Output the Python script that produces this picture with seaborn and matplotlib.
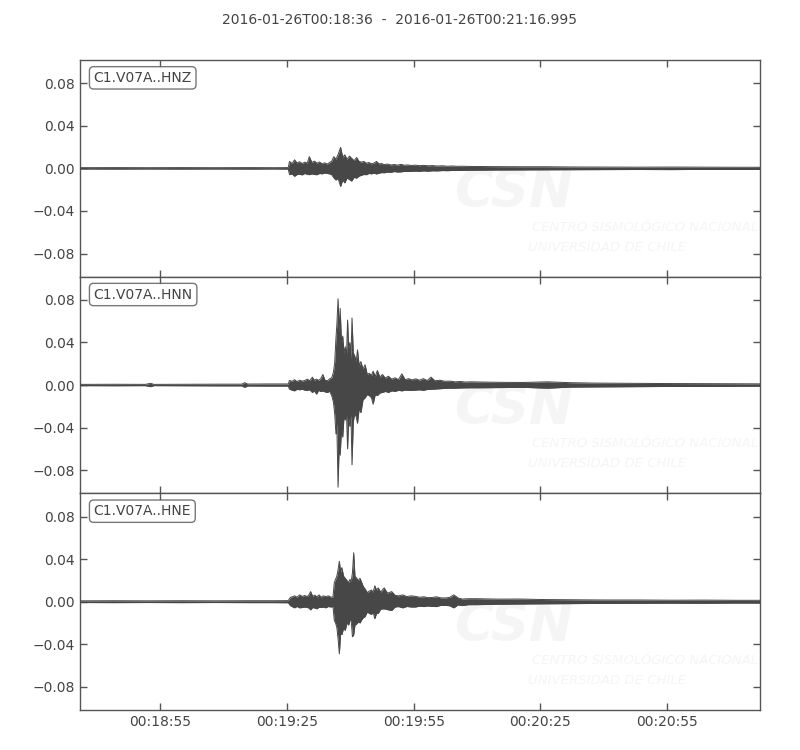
import numpy as np
import pandas as pd
import matplotlib
matplotlib.use('Agg')
import matplotlib.pyplot as plt
import matplotlib.dates as mdates
from matplotlib.ticker import MultipleLocator, FuncFormatter
import seaborn as sns

# record window
start = pd.Timestamp('2016-01-26T00:18:36')
end = pd.Timestamp('2016-01-26T00:21:16.995')
labels = ['C1.V07A..HNZ', 'C1.V07A..HNN', 'C1.V07A..HNE']

# min/max envelope (seconds after start, amplitude)
hnz_t = [0, 8, 16, 24, 32, 40, 46,
         49.3, 49.6, 50.2, 50.8, 51.4, 52.0, 52.6, 53.2, 53.8, 54.3,
         54.9, 55.5, 56.1, 56.7, 57.3, 57.9, 58.5, 59.1, 59.6, 60.1,
         60.6, 61.1, 61.7, 62.2, 62.7, 63.2, 63.8, 64.3, 64.9, 65.5,
         66.0, 66.6, 67.2, 67.8, 68.4, 69.0, 69.6, 70.2, 70.8, 71.4,
         72.0, 72.8, 73.6, 74.4, 75.2, 76.0, 76.8, 77.6, 78.4, 79.4,
         80.4, 81.4, 82.4, 83.4, 84.6, 85.8, 87.0, 88.2, 89.4, 90.6, 92,
         98, 104, 110, 116, 124, 132, 140, 148, 155, 161]
hnz_up = [0.0006, 0.0007, 0.0006, 0.0007, 0.0006, 0.0007, 0.0006,
          0.0007, 0.0065, 0.0045, 0.008, 0.005, 0.0062, 0.0045, 0.0058, 0.005, 0.011,
          0.0055, 0.0068, 0.0048, 0.006, 0.0042, 0.0052, 0.004, 0.0055, 0.0068, 0.011,
          0.0085, 0.013, 0.0197, 0.0105, 0.0127, 0.0085, 0.0115, 0.0095, 0.0072, 0.0102,
          0.0068, 0.0058, 0.0065, 0.0048, 0.0055, 0.0042, 0.005, 0.0065, 0.0042, 0.0045,
          0.0035, 0.004, 0.0032, 0.0036, 0.003, 0.0038, 0.0029, 0.0032, 0.0027, 0.003,
          0.0025, 0.0028, 0.0024, 0.0026, 0.0022, 0.0024, 0.002, 0.0022, 0.0019, 0.002, 0.0018,
          0.0016, 0.0015, 0.0015, 0.0013, 0.0012, 0.0011, 0.0012, 0.0011, 0.001, 0.001]
hnz_lo = [-0.0006, -0.0007, -0.0006, -0.0007, -0.0006, -0.0007, -0.0006,
          -0.0007, -0.006, -0.0052, -0.0075, -0.0058, -0.0055, -0.0062, -0.0048, -0.0056, -0.006,
          -0.0052, -0.0058, -0.006, -0.0048, -0.0052, -0.0044, -0.0048, -0.0052, -0.006, -0.009,
          -0.011, -0.0095, -0.017, -0.011, -0.0137, -0.0092, -0.0105, -0.012, -0.0085, -0.0092,
          -0.0075, -0.0065, -0.0058, -0.006, -0.0048, -0.0052, -0.0045, -0.0053, -0.0046, -0.004,
          -0.0042, -0.0035, -0.0038, -0.003, -0.0035, -0.0033, -0.0029, -0.003, -0.0028, -0.0026,
          -0.0028, -0.0024, -0.0027, -0.0023, -0.0024, -0.0021, -0.0022, -0.002, -0.002, -0.0019,
          -0.0018,
          -0.0016, -0.0015, -0.0014, -0.0013, -0.0012, -0.0011, -0.0012, -0.001, -0.001, -0.001]

hnn_t = [0, 8, 15.5, 16.7, 17.5, 25, 33, 38.3, 39, 39.7, 44,
         49.3, 49.6, 50.2, 50.8, 51.4, 52.0, 52.6, 53.2, 53.8, 54.4,
         55.0, 55.5, 56.0, 56.5, 57.0, 57.5, 58.0, 58.6, 59.1, 59.6,
         60.0, 60.3, 60.6, 60.8, 61.1, 61.35, 61.6, 61.9, 62.2, 62.5,
         62.8, 63.1, 63.35, 63.6, 63.9, 64.15, 64.4, 64.7, 65.0, 65.4,
         65.7, 66.1, 66.5, 67.0, 67.5, 68.0, 68.5, 69.0, 69.4, 69.9,
         70.4, 71.0, 71.6, 72.3, 73.0, 73.8, 74.6, 75.4, 76.2, 77.0,
         77.8, 78.6, 79.5, 80.4, 81.3, 82.2, 83.1, 84.0, 85.2, 86.4,
         87.6, 88.8, 90.0, 91.2, 92.5,
         95, 100, 105, 110.7, 116, 122, 130, 138, 146, 154, 161]
hnn_up = [0.0006, 0.0007, 0.0006, 0.0016, 0.0006, 0.0007, 0.0008, 0.0008, 0.0022, 0.0009, 0.001,
          0.001, 0.0043, 0.0035, 0.005, 0.0032, 0.0045, 0.0037, 0.0042, 0.0055, 0.004,
          0.0074, 0.0045, 0.0055, 0.0043, 0.006, 0.0099, 0.0045, 0.004, 0.0058, 0.0068,
          0.012, 0.021, 0.044, 0.056, 0.081, 0.05, 0.072, 0.04, 0.046, 0.03,
          0.036, 0.028, 0.061, 0.035, 0.04, 0.025, 0.063, 0.03, 0.028, 0.022,
          0.033, 0.018, 0.022, 0.015, 0.019, 0.01, 0.011, 0.009, 0.013, 0.008,
          0.0136, 0.0075, 0.0099, 0.0065, 0.0083, 0.0055, 0.0068, 0.005, 0.0105, 0.005,
          0.006, 0.0048, 0.0058, 0.0045, 0.006, 0.0042, 0.0074, 0.004, 0.0045, 0.0035,
          0.0037, 0.003, 0.0033, 0.0028, 0.003,
          0.0028, 0.0025, 0.0024, 0.003, 0.0022, 0.0018, 0.0016, 0.0014, 0.0013, 0.0012, 0.0011]
hnn_lo = [-0.0006, -0.0007, -0.0006, -0.0016, -0.0006, -0.0007, -0.0008, -0.0008, -0.0022,
          -0.0009, -0.001,
          -0.001, -0.004, -0.0048, -0.0055, -0.004, -0.0045, -0.004, -0.0048, -0.005, -0.0045,
          -0.007, -0.0055, -0.0086, -0.005, -0.0062, -0.0055, -0.0065, -0.007, -0.0058, -0.010,
          -0.016, -0.027, -0.046, -0.036, -0.096, -0.058, -0.066, -0.042, -0.049, -0.03,
          -0.033, -0.027, -0.060, -0.032, -0.039, -0.028, -0.075, -0.035, -0.027, -0.03,
          -0.036, -0.022, -0.026, -0.014, -0.012, -0.009, -0.010, -0.012, -0.018, -0.009,
          -0.010, -0.0075, -0.007, -0.006, -0.007, -0.0055, -0.006, -0.005, -0.0055, -0.0048,
          -0.005, -0.005, -0.0048, -0.0045, -0.005, -0.0042, -0.004, -0.0038, -0.0035, -0.0032,
          -0.003, -0.003, -0.0028, -0.0027, -0.0026,
          -0.0026, -0.0024, -0.0022, -0.003, -0.002, -0.0018, -0.0016, -0.0014, -0.0013,
          -0.0012, -0.0011]

hne_t = [0, 8, 16, 24, 32, 40, 46,
         49.3, 49.8, 50.4, 50.8, 51.4, 52.0, 52.6, 53.2, 53.8, 54.2,
         54.6, 55.1, 55.6, 56.1, 56.6, 57.1, 57.6, 58.2, 58.8, 59.4,
         59.9, 60.2, 60.5, 60.8, 61.1, 61.4, 61.7, 62.0, 62.4, 62.8,
         63.2, 63.6, 63.9, 64.2, 64.5, 64.8, 65.1, 65.5, 65.9, 66.3,
         66.7, 67.1, 67.5, 68.0, 68.5, 69.0, 69.4, 69.8, 70.2, 70.6,
         71.2, 72.0, 72.8, 73.8, 74.6, 75.4, 76.4, 77.4, 78.4, 79.4,
         80.4, 81.4, 82.4, 83.4, 84.4, 85.4, 86.5, 87.5, 88.5, 89.5, 90.5, 92,
         94, 99, 104, 110, 117, 124, 132, 140, 148, 155, 161]
hne_up = [0.0008, 0.0009, 0.0008, 0.0009, 0.0008, 0.0009, 0.0009,
          0.001, 0.004, 0.0048, 0.0055, 0.0042, 0.0064, 0.005, 0.0058, 0.0048, 0.0065,
          0.0095, 0.005, 0.0062, 0.0045, 0.0064, 0.0042, 0.0055, 0.0048, 0.0055, 0.0042,
          0.0046, 0.0178, 0.021, 0.024, 0.03, 0.038, 0.028, 0.032, 0.024, 0.022,
          0.02, 0.018, 0.021, 0.019, 0.027, 0.046, 0.024, 0.022, 0.02, 0.022,
          0.018, 0.014, 0.012, 0.0086, 0.01, 0.011, 0.009, 0.015, 0.011, 0.013,
          0.009, 0.013, 0.008, 0.0095, 0.006, 0.0055, 0.0064, 0.0048, 0.0055, 0.005,
          0.0042, 0.0046, 0.0038, 0.004, 0.0046, 0.0036, 0.0035, 0.004, 0.0064, 0.0035, 0.0025,
          0.0028,
          0.0028, 0.0024, 0.0025, 0.002, 0.0018, 0.0016, 0.0016, 0.0014, 0.0015, 0.0013, 0.0013]
hne_lo = [-0.0008, -0.0009, -0.0008, -0.0009, -0.0008, -0.0009, -0.0009,
          -0.001, -0.0037, -0.005, -0.0058, -0.0045, -0.0058, -0.0055, -0.005, -0.0055, -0.006,
          -0.0077, -0.0055, -0.006, -0.0067, -0.0052, -0.0055, -0.005, -0.0058, -0.0045, -0.005,
          -0.0046, -0.0175, -0.02, -0.024, -0.035, -0.049, -0.03, -0.031, -0.025, -0.027,
          -0.02, -0.022, -0.018, -0.017, -0.033, -0.031, -0.022, -0.021, -0.019, -0.02,
          -0.017, -0.015, -0.014, -0.0098, -0.011, -0.012, -0.01, -0.016, -0.011, -0.011,
          -0.007, -0.0067, -0.0075, -0.0083, -0.005, -0.0046, -0.0058, -0.0045, -0.005, -0.005,
          -0.0042, -0.0046, -0.004, -0.0045, -0.0046, -0.0035, -0.0035, -0.0038, -0.0058, -0.003,
          -0.0037, -0.0028,
          -0.0028, -0.0024, -0.0022, -0.002, -0.0018, -0.0016, -0.0015, -0.0014, -0.0015,
          -0.0013, -0.0013]

traces = [(hnz_t, hnz_up, hnz_lo), (hnn_t, hnn_up, hnn_lo), (hne_t, hne_up, hne_lo)]
for t, up, lo in traces:
    assert len(t) == len(up) == len(lo), (len(t), len(up), len(lo))

sns.set_style('ticks')
plt.rcParams['font.family'] = ['DejaVu Sans']

trace_c = '#474747'
text_c = '#444444'
frame_c = '#555555'
mark_c = '#f5f5f5'

fig, axes = plt.subplots(3, 1, sharex=True, figsize=(8, 7.5), dpi=100)
fig.subplots_adjust(left=0.1, right=0.95, top=0.92, bottom=0.0533, hspace=0)

# same amplitude scale on all panels
ymax = 1.06 * max(max(abs(v) for v in up + lo) for _, up, lo in traces)


def fmt_amp(v, pos):
    if abs(v) < 1e-9:
        v = 0.0
    return f'{v:.2f}'.replace('-', '\u2212')


for ax, lab, (t, up, lo) in zip(axes, labels, traces):
    df = pd.DataFrame({'time': start + pd.to_timedelta(t, unit='s'), 'up': up, 'lo': lo})

    # faint CSN watermark
    ax.text(0.55, 0.32, 'CSN', transform=ax.transAxes, fontsize=38, fontweight='bold',
            fontstyle='italic', color=mark_c, zorder=0)
    ax.text(0.665, 0.213, 'CENTRO SISMOLÓGICO NACIONAL', transform=ax.transAxes,
            fontsize=9.5, fontstyle='italic', color=mark_c, zorder=0)
    ax.text(0.659, 0.12, 'UNIVERSIDAD DE CHILE', transform=ax.transAxes,
            fontsize=9.5, fontstyle='italic', color=mark_c, zorder=0)

    ax.fill_between(df['time'], df['lo'], df['up'], color=trace_c, lw=0, zorder=2)
    sns.lineplot(data=df, x='time', y='up', ax=ax, color=trace_c, lw=0.7,
                 estimator=None, zorder=3)
    sns.lineplot(data=df, x='time', y='lo', ax=ax, color=trace_c, lw=0.7,
                 estimator=None, zorder=3)

    ax.set_xlim(start, end)
    ax.set_ylim(-ymax, ymax)
    ax.set_xlabel('')
    ax.set_ylabel('')
    ax.yaxis.set_major_locator(MultipleLocator(0.04))
    ax.yaxis.set_major_formatter(FuncFormatter(fmt_amp))
    ax.tick_params(direction='in', top=True, right=True, length=5, width=1,
                   colors=frame_c, labelcolor=text_c, labelsize=10)
    for s in ax.spines.values():
        s.set_color(frame_c)
        s.set_linewidth(1)

    ax.text(0.02, 0.95, lab, transform=ax.transAxes, va='top', ha='left', fontsize=10,
            color=text_c, zorder=5,
            bbox=dict(boxstyle='round', fc='white', ec=frame_c, alpha=0.8))

axes[-1].xaxis.set_major_locator(mdates.SecondLocator(bysecond=[25, 55]))
axes[-1].xaxis.set_major_formatter(mdates.DateFormatter('%H:%M:%S'))

fig.suptitle('2016-01-26T00:18:36  -  2016-01-26T00:21:16.995', y=0.982,
             fontsize=10, color=text_c)

plt.savefig('out.png', dpi=100)
